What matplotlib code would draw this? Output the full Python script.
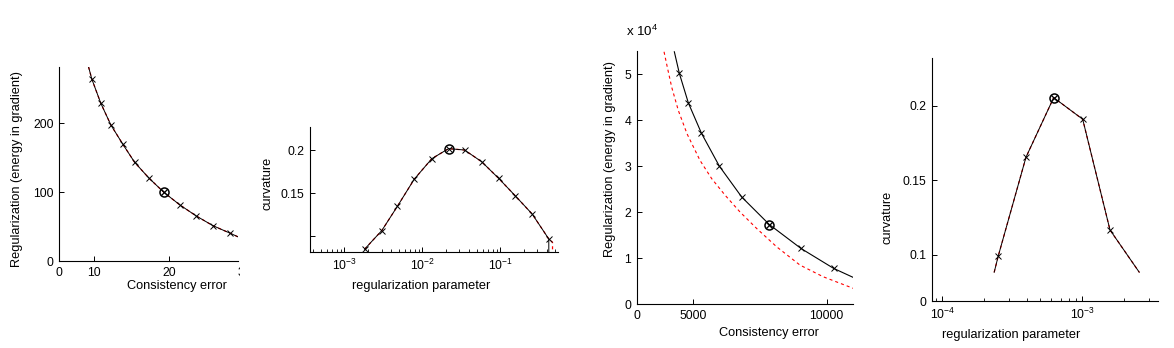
import matplotlib
matplotlib.use("Agg")
import matplotlib.pyplot as plt
import numpy as np
from matplotlib.ticker import FixedLocator, FixedFormatter, LogLocator, NullFormatter
from matplotlib.transforms import Bbox, TransformedBbox, offset_copy

plt.rcParams["font.family"] = ["Liberation Sans", "DejaVu Sans"]
plt.rcParams["font.size"] = 8.8
plt.rcParams["mathtext.fontset"] = "custom"
plt.rcParams["mathtext.rm"] = "Liberation Sans"
plt.rcParams["mathtext.it"] = "Liberation Sans:italic"
plt.rcParams["lines.scale_dashes"] = False

# -----------------------------
# Data
# -----------------------------
# Panel 1: L-curve, small problem
lc1_err = [9.29, 9.73, 10.93, 12.27, 13.87, 15.43, 17.33, 19.33, 21.47, 23.65, 25.87, 28.09, 29.25]
lc1_reg = [282.4, 264.5, 229.2, 197.7, 169.6, 143.5, 120.6, 99.8, 81.4, 65.4, 51.3, 40.7, 34.9]
lc1_mark_err = lc1_err[1:-1]
lc1_mark_reg = lc1_reg[1:-1]
lc1_best = (19.33, 99.8)

# Panel 2: curvature vs regularization parameter (log10 of lambda)
cv1_loglam = [-2.74, -2.519, -2.319, -2.104, -1.877, -1.663, -1.458, -1.239, -1.021, -0.806, -0.591, -0.378]
cv1_curv = [0.085, 0.1067, 0.1349, 0.1663, 0.1903, 0.2019, 0.2003, 0.1867, 0.1674, 0.1469, 0.1259, 0.0969]
cv1_tail_black = [(-0.376, 0.0)]
cv1_tail_red = [(-0.33, 0.093), (-0.33, 0.0)]
cv1_best = (-1.663, 0.2019)

# Panel 3: L-curve, large problem (black = solid, red = dashed)
lc2_err = [4287, 4475, 4813, 5304, 5975, 6815, 7850, 9039, 10265, 11026]
lc2_reg = [54830, 50130, 43720, 37140, 30000, 23290, 17320, 12120, 7790, 5760]
lc2_mark_err = lc2_err[1:-1]
lc2_mark_reg = lc2_reg[1:-1]
lc2_best = (7850, 17320)
lc2_red_err = [3901, 4025, 4190, 4438, 4764, 5251, 5690, 6189, 6751, 7378, 8128, 9001, 9875, 11000]
lc2_red_reg = [54830, 51430, 47100, 42060, 37010, 31230, 27270, 23700, 20040, 16450, 12470, 8510, 5970, 3460]

# Panel 4: curvature vs regularization parameter (log10 of lambda)
cv2_loglam = [-3.629, -3.600, -3.402, -3.204, -2.997, -2.802, -2.593]
cv2_curv = [0.0884, 0.0993, 0.1656, 0.2056, 0.1911, 0.1168, 0.0884]
cv2_best = (-3.204, 0.2056)

W, H = 1174, 348
fig = plt.figure(figsize=(W / 100, H / 100), dpi=100)


def px_axes(l, r, t, b):
    # axes from pixel edges (y measured from top)
    return fig.add_axes([l / W, (H - b) / H, (r - l) / W, (b - t) / H])


def style(ax):
    ax.spines["top"].set_visible(False)
    ax.spines["right"].set_visible(False)
    for s in ("left", "bottom"):
        ax.spines[s].set_linewidth(0.8)
    ax.tick_params(which="major", direction="in", length=3.5, width=0.7, pad=4)
    ax.tick_params(which="minor", direction="in", length=2.5, width=0.6)
    ax.tick_params(top=False, right=False)


def curve(ax, x, y, mx, my, best, rx=None, ry=None):
    if rx is None:
        # red dashed copy sits under the black one
        ax.plot(x, y, color="red", lw=0.9, dashes=(2.2, 2.2))
        ax.plot(x, y, color="black", lw=0.7)
    else:
        ax.plot(x, y, color="black", lw=0.8)
        ax.plot(rx, ry, color="red", lw=0.8, dashes=(2.2, 2.2))
    ax.plot(mx, my, ls="none", marker="x", ms=4.5, mew=0.7, color="black")
    ax.plot([best[0]], [best[1]], ls="none", marker="x", ms=4.5, mew=0.7, color="black")
    ax.plot([best[0]], [best[1]], ls="none", marker="o", ms=6.5, mew=1.1,
            mfc="none", mec="black")


# -----------------------------
# Panel 1
# -----------------------------
ax1 = px_axes(59.3, 238.0, 67.0, 261.0)
curve(ax1, lc1_err, lc1_reg, lc1_mark_err, lc1_mark_reg, lc1_best)
ax1.set_xlim(5.4, 29.2)
ax1.set_ylim(0, 282)
style(ax1)
ax1.xaxis.set_major_locator(FixedLocator([5.4, 10, 20]))
ax1.xaxis.set_major_formatter(FixedFormatter(["0", "10", "20"]))
ax1.set_yticks([0, 100, 200])
ax1.set_xlabel("Consistency error", fontsize=9.2)
ax1.set_ylabel("Regularization (energy in gradient)", fontsize=9.2)
ax1.xaxis.set_label_coords(0.659, -0.10)
ax1.yaxis.set_label_coords(-0.205, 0.474)
# partly hidden "30" label at the cut edge
t30 = fig.text(30, 0, "30", ha="center", va="top",
               transform=offset_copy(ax1.get_xaxis_transform(), fig=fig, y=-4, units="points"))
t30.set_clip_on(True)
t30.set_clip_box(TransformedBbox(Bbox.from_extents(0, 0, 239.5 / W, 1), fig.transFigure))

# -----------------------------
# Panel 2
# -----------------------------
ax2 = px_axes(310.3, 558.3, 126.7, 252.3)
x2 = [10 ** v for v in cv1_loglam]
bx = x2 + [10 ** p[0] for p in cv1_tail_black]
by = cv1_curv + [p[1] for p in cv1_tail_black]
rx = x2 + [10 ** p[0] for p in cv1_tail_red]
ry = cv1_curv + [p[1] for p in cv1_tail_red]
ax2.plot(rx, ry, color="red", lw=0.9, dashes=(2.2, 2.2))
ax2.plot(bx, by, color="black", lw=0.7)
ax2.plot(x2, cv1_curv, ls="none", marker="x", ms=4.5, mew=0.7, color="black")
ax2.plot([10 ** cv1_best[0]], [cv1_best[1]], ls="none", marker="o", ms=6.5, mew=1.1,
         mfc="none", mec="black")
ax2.set_xscale("log")
ax2.set_xlim(10 ** -3.436, 10 ** -0.256)
ax2.set_ylim(0.0814, 0.2274)
style(ax2)
ax2.set_xticks([1e-3, 1e-2, 1e-1])
ax2.xaxis.set_minor_locator(LogLocator(base=10, subs=np.arange(2, 10)))
ax2.xaxis.set_minor_formatter(NullFormatter())
ax2.yaxis.set_major_locator(FixedLocator([0.1, 0.15, 0.2]))
ax2.yaxis.set_major_formatter(FixedFormatter(["", "0.15", "0.2"]))
ax2.set_xlabel("regularization parameter", fontsize=9.2)
ax2.set_ylabel("curvature", fontsize=9.2)
ax2.xaxis.set_label_coords(0.447, -0.22)
ax2.yaxis.set_label_coords(-0.149, 0.552)

# -----------------------------
# Panel 3
# -----------------------------
ax3 = px_axes(636.7, 853.3, 51.0, 304.3)
curve(ax3, lc2_err, lc2_reg, lc2_mark_err, lc2_mark_reg, lc2_best, lc2_red_err, lc2_red_reg)
ax3.set_xlim(2875, 11000)
ax3.set_ylim(0, 55000)
style(ax3)
ax3.xaxis.set_major_locator(FixedLocator([2875, 5000, 10000]))
ax3.xaxis.set_major_formatter(FixedFormatter(["0", "5000", "10000"]))
ax3.yaxis.set_major_locator(FixedLocator([0, 10000, 20000, 30000, 40000, 50000]))
ax3.yaxis.set_major_formatter(FixedFormatter(["0", "1", "2", "3", "4", "5"]))
ax3.set_xlabel("Consistency error", fontsize=9.2)
ax3.set_ylabel("Regularization (energy in gradient)", fontsize=9.2)
ax3.xaxis.set_label_coords(0.611, -0.09)
ax3.yaxis.set_label_coords(-0.0956, 0.573)
fig.text(626 / W, 1 - 31 / H, r"x 10$^{4}$", ha="left", va="center", fontsize=9.6)

# -----------------------------
# Panel 4
# -----------------------------
ax4 = px_axes(932.3, 1158.3, 58.3, 301.0)
x4 = [10 ** v for v in cv2_loglam]
curve(ax4, x4, cv2_curv, x4[1:-1], cv2_curv[1:-1], (10 ** cv2_best[0], cv2_best[1]))
ax4.set_xscale("log")
ax4.set_xlim(10 ** -4.071, 10 ** -2.457)
ax4.set_ylim(0.0691, 0.232)
style(ax4)
ax4.set_xticks([1e-4, 1e-3])
ax4.xaxis.set_minor_locator(LogLocator(base=10, subs=np.arange(2, 10)))
ax4.xaxis.set_minor_formatter(NullFormatter())
ax4.yaxis.set_major_locator(FixedLocator([0.0691, 0.1, 0.15, 0.2]))
ax4.yaxis.set_major_formatter(FixedFormatter(["0", "0.1", "0.15", "0.2"]))
ax4.set_xlabel("regularization parameter", fontsize=9.2)
ax4.set_ylabel("curvature", fontsize=9.2)
ax4.xaxis.set_label_coords(0.347, -0.115)
ax4.yaxis.set_label_coords(-0.173, 0.343)

fig.savefig("out.png", dpi=100)
